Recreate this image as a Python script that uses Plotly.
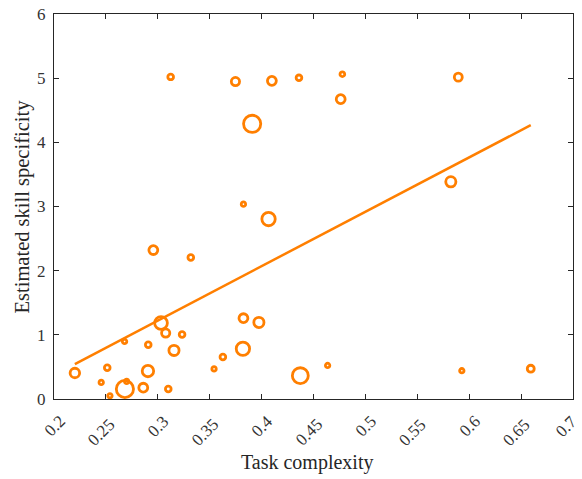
import plotly.graph_objects as go

# Task complexity (x), estimated skill specificity (y), relative weight (bubble size)
task_complexity = [0.2201, 0.2455, 0.2513, 0.2539, 0.2683, 0.2700, 0.2680, 0.2908, 0.2905, 0.2860,
                   0.3031, 0.3076, 0.3234, 0.3156, 0.3101, 0.3542, 0.3627, 0.3825, 0.3820, 0.3974,
                   0.4373, 0.4636, 0.3124, 0.3748, 0.4099, 0.4360, 0.3909, 0.3825, 0.4067, 0.2957,
                   0.3318, 0.4778, 0.4762, 0.5895, 0.5823, 0.5929, 0.6593]
skill_specificity = [0.405, 0.259, 0.488, 0.051, 0.156, 0.274, 0.897, 0.846, 0.436, 0.176,
                     1.184, 1.028, 1.006, 0.757, 0.156, 0.469, 0.654, 1.259, 0.783, 1.193,
                     0.363, 0.523, 5.020, 4.947, 4.958, 5.005, 4.288, 3.037, 2.804, 2.321,
                     2.206, 5.062, 4.673, 5.016, 3.385, 0.441, 0.472]
weight = [2.6, 1.0, 1.4, 1.0, 5.0, 1.0, 1.0, 1.4, 3.2, 2.4,
          3.6, 2.2, 1.4, 2.8, 1.4, 1.0, 1.4, 2.4, 3.8, 2.8,
          4.6, 1.0, 1.4, 2.2, 2.4, 1.4, 5.0, 1.0, 3.8, 2.4,
          1.4, 1.1, 2.4, 2.1, 2.8, 1.0, 1.8]

# fitted trend line end points
fit_x = [0.2201, 0.6593]
fit_y = [0.545, 4.268]

x_ticks = [0.2, 0.25, 0.3, 0.35, 0.4, 0.45, 0.5, 0.55, 0.6, 0.65, 0.7]
x_labels = ["0.2", "0.25", "0.3", "0.35", "0.4", "0.45", "0.5", "0.55", "0.6", "0.65", "0.7"]
y_ticks = [0, 1, 2, 3, 4, 5, 6]
x_title = "Task complexity"
y_title = "Estimated skill specificity"

X_RANGE = [0.2, 0.7]
Y_RANGE = [0, 6]
ORANGE = "#ff7f00"
TEXT = "#262626"
LW = 2.8
sizes = [4 + 3.2 * w - LW for w in weight]
serif = "Liberation Serif, Times New Roman, serif"

fig = go.Figure()
fig.add_trace(go.Scatter(
    x=task_complexity, y=skill_specificity, mode="markers",
    marker=dict(symbol="circle", size=sizes, color="rgba(255,255,255,0)", opacity=1,
                line=dict(color=ORANGE, width=LW)),
    showlegend=False, hoverinfo="x+y"))
fig.add_trace(go.Scatter(
    x=fit_x, y=fit_y, mode="lines",
    line=dict(color=ORANGE, width=2.5), showlegend=False))

# rotated x tick labels, centred like the original (right end near the tick)
annotations = []
for i, (v, lab) in enumerate(zip(x_ticks, x_labels)):
    n = len(lab) - 3
    edge_nudge = -7 if i == len(x_ticks) - 1 else 0  # keep last label inside the page
    annotations.append(dict(
        x=(v - X_RANGE[0]) / (X_RANGE[1] - X_RANGE[0]), xref="paper",
        y=0, yref="paper", text=lab, showarrow=False, textangle=-45,
        xanchor="center", yanchor="middle", borderpad=0,
        xshift=-5 * n + edge_nudge, yshift=-(27 + 6 * n),
        font=dict(family=serif, size=17, color="#333333")))
annotations.append(dict(
    x=(307 - 54) / 519, xref="paper", y=0, yref="paper", yshift=-63,
    text=x_title, showarrow=False, xanchor="center", yanchor="middle",
    font=dict(family=serif, size=20, color=TEXT)))
annotations.append(dict(
    x=0, xref="paper", xshift=-32, y=0.5, yref="paper",
    text=y_title, showarrow=False, textangle=-90, xanchor="center", yanchor="middle",
    font=dict(family=serif, size=20.5, color=TEXT)))

fig.update_layout(
    width=582, height=479,
    margin=dict(l=54, r=9, t=14, b=80),
    paper_bgcolor="white", plot_bgcolor="white",
    font=dict(family=serif, size=17, color=TEXT),
    annotations=annotations,
    xaxis=dict(range=X_RANGE, tickvals=x_ticks, showticklabels=False,
               ticks="inside", ticklen=5, tickcolor=TEXT,
               showline=True, linecolor=TEXT, linewidth=1, mirror="ticks",
               showgrid=False, zeroline=False, automargin=False),
    yaxis=dict(range=Y_RANGE, tickvals=y_ticks,
               ticks="inside", ticklen=5, tickcolor=TEXT,
               ticklabelstandoff=4,
               tickfont=dict(size=17, color="#333333"),
               showline=True, linecolor=TEXT, linewidth=1, mirror="ticks",
               showgrid=False, zeroline=False, automargin=False),
)
fig.write_html("out.html")
